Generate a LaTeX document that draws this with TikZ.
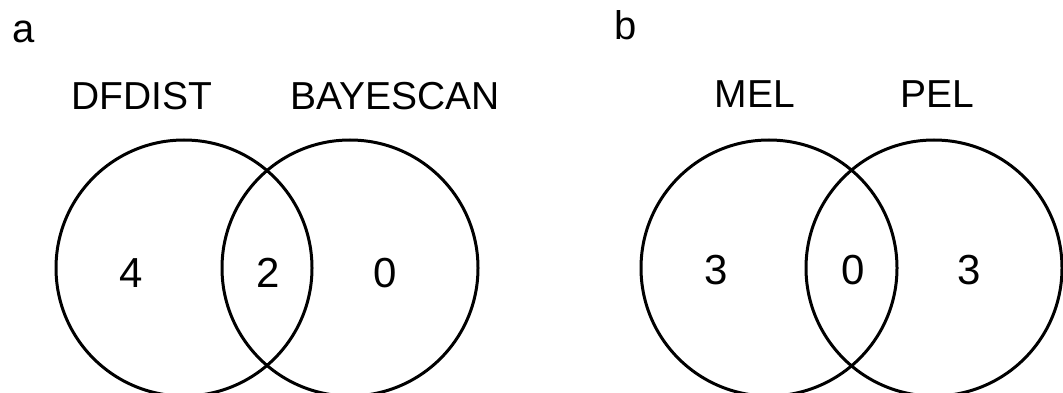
\documentclass[tikz,border=0pt]{standalone}
\usepackage{fontspec}
\setmainfont{Liberation Sans}
\begin{document}
\begin{tikzpicture}[x=1pt,y=-1pt,
  setcircle/.style={draw=black,line width=3pt,circle,minimum size=256pt,inner sep=0pt},
  setname/.style={font=\fontsize{39}{39}\selectfont,inner sep=0pt,anchor=base},
  count/.style={font=\fontsize{42}{42}\selectfont,inner sep=0pt},
  panel/.style={font=\fontsize{40}{40}\selectfont,inner sep=0pt,anchor=base west}]
  \clip (0,0) rectangle (1063,393);
  \useasboundingbox (0,0) rectangle (1063,393);
  % panel a
  \node[panel] (pa) at (12,43) {a};
  \node[setcircle] (dfd) at (184,268) {};
  \node[setcircle] (bay) at (350,268) {};
  \node[setname] (ldfd) at (142,110) {DFDIST};
  \node[setname] (lbay) at (395,110) {BAYESCAN};
  \node[count] (c4) at (131,273) {4};
  \node[count] (c2) at (268,273) {2};
  \node[count] (c0) at (385,273) {0};
  % panel b
  \node[panel] (pb) at (614,40) {b};
  \node[setcircle] (mel) at (769,268) {};
  \node[setcircle] (pel) at (934,268) {};
  \node[setname] (lmel) at (755,108) {MEL};
  \node[setname] (lpel) at (937,108) {PEL};
  \node[count] (m3) at (716,270) {3};
  \node[count] (m0) at (853,270) {0};
  \node[count] (p3) at (969,270) {3};
\end{tikzpicture}
\end{document}
